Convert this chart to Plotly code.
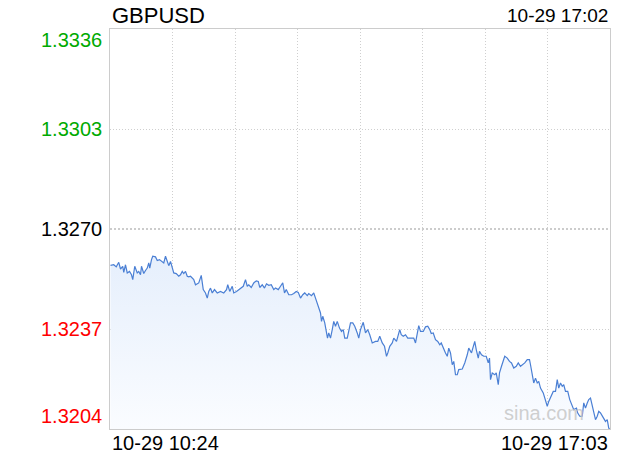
import plotly.graph_objects as go

# GBPUSD intraday, minutes after 10-29 10:24
minutes = [0.4, 3.0, 5.0, 7.0, 8.4, 10.2, 11.0, 12.4, 13.8, 15.6, 17.2, 18.2, 19.8, 21.8, 23.0, 24.4,
           25.2, 27.0, 28.4, 29.8, 31.0, 31.8, 33.2, 34.2, 36.4, 37.8, 39.6, 41.2, 43.0, 44.4, 45.8,
           47.0, 48.4, 49.8, 51.0, 53.0, 55.0, 56.4, 57.8, 59.0, 60.4, 61.8, 63.0, 64.4, 67.0, 68.4,
           71.0, 73.0, 74.6, 76.4, 77.8, 79.0, 80.4, 81.8, 83.6, 85.8, 88.4, 91.0, 93.2, 94.2, 95.8,
           97.8, 99.0, 101.2, 103.0, 104.4, 106.6, 108.4, 109.8, 111.0, 113.0, 115.0, 117.0, 118.6,
           119.8, 121.8, 123.6, 125.2, 127.0, 129.0, 131.0, 132.4, 134.6, 136.4, 138.2, 139.6, 141.0,
           143.0, 145.2, 147.0, 149.0, 150.6, 152.4, 154.2, 155.8, 157.8, 159.0, 161.2, 163.0, 164.4,
           165.8, 167.0, 168.4, 169.2, 170.2, 171.8, 173.0, 174.0, 175.0, 176.4, 177.8, 179.0, 180.4,
           181.8, 183.6, 185.2, 186.6, 187.8, 189.8, 191.0, 192.4, 194.2, 195.8, 197.8, 199.0, 200.4,
           202.6, 204.4, 206.2, 207.8, 209.8, 212.4, 214.2, 215.8, 217.8, 219.6, 221.2, 222.2, 223.8,
           225.8, 227.0, 229.2, 230.2, 231.8, 233.0, 234.6, 236.4, 238.2, 240.4, 243.0, 244.4, 245.8,
           247.0, 248.4, 250.6, 252.4, 254.2, 255.8, 257.0, 258.6, 260.4, 262.2, 263.8, 265.0, 266.6,
           268.4, 269.8, 271.0, 272.4, 273.8, 275.0, 276.4, 277.8, 279.0, 281.8, 283.8, 285.8, 287.0,
           289.2, 290.2, 291.8, 293.0, 294.6, 295.6, 297.2, 299.0, 301.0, 302.6, 303.6, 304.4, 305.8,
           307.8, 309.0, 310.6, 311.6, 313.2, 314.2, 315.8, 317.8, 319.6, 321.2, 323.0, 325.0, 326.6,
           328.4, 330.2, 331.8, 333.8, 335.6, 336.4, 337.8, 339.0, 340.4, 341.8, 343.0, 344.4, 346.6,
           348.4, 349.8, 351.0, 353.0, 354.6, 356.4, 357.8, 359.0, 360.4, 361.8, 363.0, 364.4, 366.2,
           367.8, 369.8, 371.0, 373.2, 374.2, 375.8, 377.8, 379.0, 380.4, 381.8, 383.0, 384.4, 385.8,
           387.0, 388.4, 389.8, 391.0, 392.4, 393.8, 395.0, 396.4, 397.8, 399.0, 399.8]

prices = [1.32580, 1.32582, 1.32575, 1.32590, 1.32568, 1.32577, 1.32557, 1.32582, 1.32555, 1.32560,
          1.32549, 1.32533, 1.32577, 1.32555, 1.32560, 1.32549, 1.32577, 1.32553, 1.32563, 1.32571,
          1.32588, 1.32571, 1.32599, 1.32610, 1.32608, 1.32596, 1.32599, 1.32593, 1.32588, 1.32610,
          1.32590, 1.32579, 1.32593, 1.32571, 1.32555, 1.32553, 1.32544, 1.32549, 1.32560, 1.32553,
          1.32560, 1.32544, 1.32542, 1.32544, 1.32533, 1.32516, 1.32522, 1.32547, 1.32500, 1.32489,
          1.32472, 1.32494, 1.32505, 1.32489, 1.32500, 1.32489, 1.32494, 1.32489, 1.32500, 1.32516,
          1.32494, 1.32511, 1.32489, 1.32494, 1.32500, 1.32505, 1.32511, 1.32533, 1.32511, 1.32516,
          1.32507, 1.32522, 1.32529, 1.32527, 1.32507, 1.32516, 1.32505, 1.32519, 1.32514, 1.32516,
          1.32500, 1.32505, 1.32500, 1.32511, 1.32522, 1.32489, 1.32500, 1.32483, 1.32483, 1.32487,
          1.32494, 1.32491, 1.32472, 1.32483, 1.32489, 1.32480, 1.32487, 1.32480, 1.32489, 1.32472,
          1.32456, 1.32445, 1.32423, 1.32395, 1.32412, 1.32390, 1.32357, 1.32340, 1.32357, 1.32340,
          1.32368, 1.32395, 1.32379, 1.32395, 1.32373, 1.32362, 1.32368, 1.32340, 1.32340, 1.32368,
          1.32390, 1.32390, 1.32379, 1.32357, 1.32340, 1.32368, 1.32392, 1.32357, 1.32368, 1.32351,
          1.32324, 1.32329, 1.32329, 1.32346, 1.32324, 1.32313, 1.32280, 1.32291, 1.32313, 1.32324,
          1.32340, 1.32329, 1.32346, 1.32368, 1.32351, 1.32346, 1.32351, 1.32340, 1.32340, 1.32340,
          1.32324, 1.32351, 1.32381, 1.32362, 1.32362, 1.32377, 1.32379, 1.32368, 1.32355, 1.32357,
          1.32335, 1.32329, 1.32318, 1.32324, 1.32307, 1.32291, 1.32280, 1.32307, 1.32291, 1.32252,
          1.32263, 1.32219, 1.32219, 1.32236, 1.32238, 1.32258, 1.32285, 1.32307, 1.32291, 1.32307,
          1.32329, 1.32302, 1.32274, 1.32296, 1.32285, 1.32280, 1.32280, 1.32258, 1.32274, 1.32203,
          1.32225, 1.32219, 1.32225, 1.32186, 1.32225, 1.32247, 1.32263, 1.32280, 1.32274, 1.32263,
          1.32258, 1.32241, 1.32247, 1.32258, 1.32247, 1.32252, 1.32258, 1.32269, 1.32269, 1.32252,
          1.32219, 1.32192, 1.32208, 1.32192, 1.32197, 1.32175, 1.32159, 1.32137, 1.32115, 1.32131,
          1.32153, 1.32164, 1.32164, 1.32203, 1.32175, 1.32192, 1.32181, 1.32186, 1.32164, 1.32164,
          1.32137, 1.32115, 1.32104, 1.32109, 1.32093, 1.32082, 1.32082, 1.32126, 1.32109, 1.32126,
          1.32137, 1.32142, 1.32115, 1.32087, 1.32071, 1.32082, 1.32098, 1.32093, 1.32082, 1.32071,
          1.32065, 1.32071, 1.32043, 1.32040]

symbol = 'GBPUSD'
update_time = '10-29 17:02'
start_label = '10-29 10:24'
end_label = '10-29 17:03'
prev_close = 1.3270
y_ticks = [1.3336, 1.3303, 1.3270, 1.3237, 1.3204]
y_tick_colors = ['#00aa00', '#00aa00', '#000000', '#ff0000', '#ff0000']
x_max = 400

font_family = 'Arial, Liberation Sans, sans-serif'

fig = go.Figure()

fig.add_trace(go.Scatter(
    x=minutes, y=prices, mode='lines',
    line=dict(color='#4a7fd4', width=1.2),
    fill='tozeroy',
    fillgradient=dict(type='vertical',
                      colorscale=[[0, 'rgba(250,252,255,1)'], [1, 'rgba(230,239,252,1)']],
                      start=y_ticks[-1], stop=max(prices)),
    hoverinfo='skip'
))

# previous close line
fig.add_shape(type='line', xref='paper', x0=0, x1=1, yref='y', y0=prev_close, y1=prev_close,
              line=dict(color='#999999', width=1, dash='2px,2px'), layer='below')

fig.update_xaxes(range=[0, x_max], dtick=50, tick0=0, showticklabels=False, ticks='',
                 showgrid=True, gridcolor='#cfcfcf', griddash='1px,2px', gridwidth=1,
                 showline=True, mirror=True, linecolor='#cccccc', linewidth=1, zeroline=False)
fig.update_yaxes(range=[y_ticks[-1], y_ticks[0]], tickvals=[y_ticks[1], y_ticks[3]],
                 showticklabels=False, ticks='',
                 showgrid=True, gridcolor='#cfcfcf', griddash='1px,2px', gridwidth=1,
                 showline=True, mirror=True, linecolor='#cccccc', linewidth=1, zeroline=False)

annotations = []
# price labels on the left
for i, (val, col) in enumerate(zip(y_ticks, y_tick_colors)):
    shift = 0
    if i == 0:
        shift = -11
    elif i == len(y_ticks) - 1:
        shift = 13
    annotations.append(dict(x=0, xref='paper', y=val, yref='y', text=f'{val:.4f}',
                            xanchor='right', yanchor='middle', xshift=-6, yshift=shift,
                            showarrow=False, font=dict(size=20, color=col, family=font_family)))

annotations.append(dict(x=0, xref='paper', y=1, yref='paper', text=symbol, xanchor='left',
                        yanchor='middle', yshift=14, showarrow=False,
                        font=dict(size=22, color='#000000', family=font_family)))
annotations.append(dict(x=1, xref='paper', y=1, yref='paper', text=update_time, xanchor='right',
                        yanchor='middle', yshift=14, showarrow=False,
                        font=dict(size=19, color='#000000', family=font_family)))
annotations.append(dict(x=0, xref='paper', y=0, yref='paper', text=start_label, xanchor='left',
                        yanchor='middle', yshift=-14, showarrow=False,
                        font=dict(size=20, color='#000000', family=font_family)))
annotations.append(dict(x=1, xref='paper', y=0, yref='paper', text=end_label, xanchor='right',
                        yanchor='middle', yshift=-14, showarrow=False,
                        font=dict(size=20, color='#000000', family=font_family)))
# watermark
annotations.append(dict(x=1, xref='paper', y=0, yref='paper', text='sina.com', xanchor='right',
                        yanchor='middle', xshift=-24, yshift=16, showarrow=False,
                        font=dict(size=20, color='rgba(195,195,195,0.8)', family=font_family)))

fig.update_layout(width=620, height=460, margin=dict(l=110, r=10, t=29, b=31),
                  plot_bgcolor='white', paper_bgcolor='white', showlegend=False,
                  annotations=annotations)

# drop the default page margin so the chart sits at the window corner
fig.write_html('out.html', config={'displayModeBar': False},
               post_script="document.body.style.margin='0px';")
